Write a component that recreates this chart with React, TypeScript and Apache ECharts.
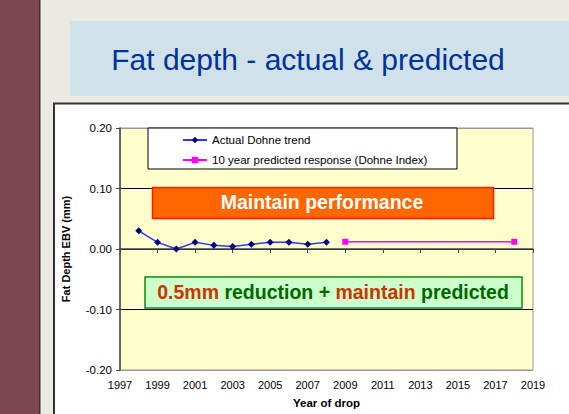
import React, { useEffect, useRef } from "react";
import * as echarts from "echarts";

const actualYears = [1998, 1999, 2000, 2001, 2002, 2003, 2004, 2005, 2006, 2007, 2008];
const actualValues = [0.03, 0.011, 0.0, 0.011, 0.006, 0.004, 0.008, 0.011, 0.011, 0.008, 0.011];
const predictedYears = [2009, 2018];
const predictedValues = [0.012, 0.012];
const seriesNames = ["Actual Dohne trend", "10 year predicted response (Dohne Index)"];

export default function App() {
  const ref = useRef<HTMLDivElement>(null);
  useEffect(() => {
    if (!ref.current) return;
    const chart = echarts.init(ref.current, null, { renderer: "svg" });
    const font = "Liberation Sans, Arial, sans-serif";
    chart.setOption({
      animation: false,
      backgroundColor: "#EAEAE2",
      textStyle: { fontFamily: font },
      graphic: [
        { type: "rect", z: -10, shape: { x: 0, y: 0, width: 39, height: 414 }, style: { fill: "#7D4650" } },
        { type: "rect", z: -10, shape: { x: 39, y: 0, width: 1.5, height: 414 }, style: { fill: "#333" } },
        { type: "rect", z: -10, shape: { x: 70, y: 21, width: 520, height: 75 }, style: { fill: "#D0E1EA" } },
        {
          type: "text", z: -9, x: 308, y: 59,
          style: { text: "Fat depth - actual & predicted", fill: "#003399", font: `30px ${font}`, align: "center", verticalAlign: "middle" },
        },
        { type: "rect", z: -10, shape: { x: 54, y: 103.5, width: 530, height: 320 }, style: { fill: "#fff", stroke: "#333", lineWidth: 2 } },
        { type: "rect", z: 10, shape: { x: 148, y: 128, width: 309, height: 41 }, style: { fill: "#fff", stroke: "#000", lineWidth: 1 } },
        { type: "rect", z: 10, shape: { x: 152.5, y: 187.5, width: 341, height: 31 }, style: { fill: "#FF6600", stroke: "#FF1A00", lineWidth: 1.5 } },
        {
          type: "text", z: 11, x: 322, y: 202,
          style: { text: "Maintain performance", fill: "#fff", font: `bold 19.5px ${font}`, align: "center", verticalAlign: "middle" },
        },
        { type: "rect", z: 10, shape: { x: 145, y: 277, width: 377, height: 31 }, style: { fill: "#CCFFCC", stroke: "#118811", lineWidth: 1.5 } },
        {
          type: "text", z: 11, x: 333, y: 292,
          style: {
            text: "{r|0.5mm} {g|reduction +} {r|maintain} {g|predicted}",
            align: "center", verticalAlign: "middle",
            rich: {
              r: { fill: "#CC3300", font: `bold 19.5px ${font}` },
              g: { fill: "#006600", font: `bold 19.5px ${font}` },
            },
            font: `bold 19.5px ${font}`,
          },
        },
      ],
      legend: {
        left: 177, top: 129, orient: "vertical", itemGap: 8, itemWidth: 24, itemHeight: 8, z: 12,
        textStyle: { fontSize: 11.5, color: "#000", fontFamily: font },
        data: seriesNames,
      },
      grid: { left: 120, top: 128, width: 413, height: 242, show: true, backgroundColor: "#FFFFCC", borderColor: "#999", borderWidth: 1 },
      xAxis: {
        type: "value", min: 1997, max: 2019, interval: 2,
        name: "Year of drop", nameLocation: "middle", nameGap: 27,
        nameTextStyle: { fontWeight: "bold", fontSize: 11.5, color: "#000" },
        axisLine: { lineStyle: { color: "#444", width: 1.5 } },
        axisTick: { show: true, length: 4, lineStyle: { color: "#444" } },
        axisLabel: { color: "#000", fontSize: 11, margin: 9, formatter: (v: number) => String(v) },
        splitLine: { show: false },
      },
      yAxis: {
        type: "value", min: -0.2, max: 0.2, interval: 0.1,
        name: "Fat Depth EBV (mm)", nameLocation: "middle", nameGap: 49, nameRotate: 90,
        nameTextStyle: { fontWeight: "bold", fontSize: 11, color: "#000" },
        axisLine: { show: true, lineStyle: { color: "#444", width: 1.5 } },
        axisTick: { show: true, length: 4, lineStyle: { color: "#444" } },
        axisLabel: { color: "#000", fontSize: 11.5, margin: 8, formatter: (v: number) => v.toFixed(2) },
        splitLine: { show: true, lineStyle: { color: ["#999", "#000", "#000", "#000", "#999"], width: 1 } },
      },
      series: [
        {
          name: seriesNames[0], type: "line",
          data: actualYears.map((y, i) => [y, actualValues[i]]),
          symbol: "diamond", symbolSize: 7,
          lineStyle: { color: "#3333FF", width: 1.5 },
          itemStyle: { color: "#000080" },
          z: 5,
        },
        {
          name: seriesNames[1], type: "line",
          data: predictedYears.map((y, i) => [y, predictedValues[i]]),
          symbol: "rect", symbolSize: 6,
          lineStyle: { color: "#FF00FF", width: 1.5 },
          itemStyle: { color: "#FF00FF" },
          z: 5,
        },
      ],
    });
    return () => chart.dispose();
  }, []);
  return <div ref={ref} style={{ position: "absolute", left: 0, top: 0, width: 569, height: 414 }} />;
}
